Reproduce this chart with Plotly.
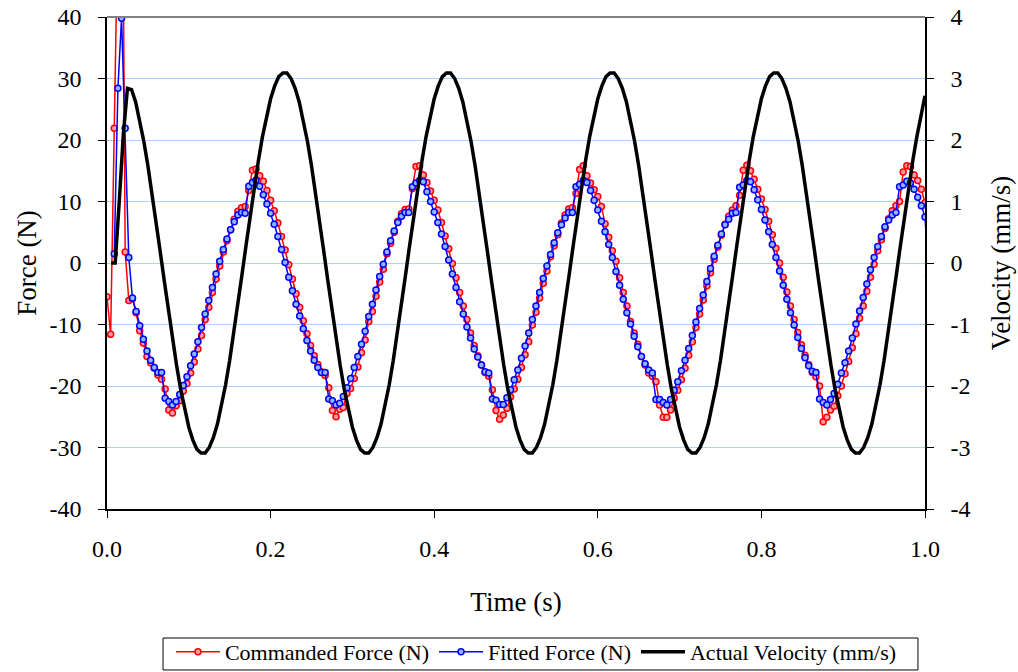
import plotly.graph_objects as go

# ---------------- data ----------------
SAMPLE_INTERVAL = 1.0 / 225.0   # force samples, ~0.00444 s apart

commanded_force = [
    -5.5, -11.6, 21.9, 50.0, 90.0, 1.8, -6.1, -5.8, -8.1, -11.0, -13.0, -15.2, -16.2, -17.1, -18.2, -18.9,
    -20.5, -23.9, -24.4, -23.2, -22.4, -20.8, -19.6, -17.9, -16.1, -14.0, -11.8, -9.2, -7.2, -4.8, -2.6, -0.5,
    1.8, 3.6, 5.4, 7.1, 8.4, 9.0, 9.2,
    11.8, 15.1, 15.3, 14.2, 13.3, 11.8, 10.2, 8.5, 6.5, 4.3, 2.1, -0.3, -2.6, -5.0, -7.2, -9.4, -11.5, -13.4,
    -15.1, -16.5, -17.7, -18.3,
    -20.3, -24.0, -25.0, -23.8, -23.5, -21.2, -20.4, -18.8, -16.9, -14.6, -12.5, -9.5, -7.9, -5.4, -3.1, -1.0,
    1.5, 3.2, 5.0, 6.8, 8.0, 8.7, 8.8,
    12.1, 15.7, 15.8, 14.3, 13.1, 11.7, 10.2, 8.6, 6.6, 4.4, 2.3, -0.1, -2.4, -4.8, -7.0, -9.2, -11.4, -13.4,
    -15.1, -16.6, -17.8, -18.4,
    -20.6, -24.0, -25.4, -24.7, -23.6, -21.8, -20.5, -18.9, -17.0, -14.9, -12.8, -10.1, -8.0, -5.7, -3.3, -1.3,
    1.0, 2.8, 4.6, 6.5, 7.8, 8.8, 9.0,
    11.3, 15.2, 15.8, 14.2, 13.0, 11.9, 10.8, 9.2, 6.4, 4.2, 2.0, 0.3, -2.4, -4.8, -7.0, -9.5, -11.4, -13.2,
    -15.2, -16.6, -17.9, -18.4,
    -19.3, -23.1, -25.1, -25.1, -23.9, -22.0, -20.7, -19.0, -17.1, -15.0, -12.8, -10.5, -8.3, -6.0, -3.7, -1.6,
    0.6, 2.6, 4.5, 6.3, 7.6, 8.6, 9.3,
    11.0, 15.1, 15.9, 15.0, 13.6, 12.0, 10.4, 8.7, 6.8, 4.6, 2.4, 0.0, -2.3, -4.7, -7.0, -9.2, -11.3, -13.3,
    -15.0, -16.5, -17.8, -18.5,
    -20.0, -25.8, -25.1, -23.9, -23.3, -21.6, -20.0, -18.0, -16.0, -13.8, -11.5, -9.0, -7.0, -4.6, -2.3, -0.2,
    2.0, 3.8, 5.6, 7.2, 8.5, 9.3,
    10.0, 14.8, 15.8, 15.7, 14.3, 13.4, 12.0, 9.8, 7.0,
]

fitted_force = [
    None, None, 1.5, 28.4, 39.8, 21.9, 0.9, -5.7, -7.9, -10.2, -12.4, -14.3, -15.8, -17.0, -17.8, -17.8,
    -22.0, -22.5, -23.1, -22.5, -21.4, -19.9, -18.5, -16.7, -14.8, -12.8, -10.5, -8.3, -6.1, -4.0, -1.8, 0.3,
    2.2, 3.9, 5.4, 6.7, 7.8, 8.2, 8.1,
    12.5, 13.1, 13.5, 12.5, 11.1, 9.6, 8.1, 6.3, 4.3, 2.2, 0.1, -2.3, -4.5, -6.7, -8.6, -10.7, -12.6, -14.3,
    -15.8, -17.0, -17.8, -17.8,
    -22.1, -22.4, -23.1, -22.8, -21.7, -20.3, -18.8, -17.0, -15.2, -13.2, -11.1, -8.7, -6.7, -4.4, -2.2, -0.2,
    1.8, 3.6, 5.2, 6.6, 7.6, 8.2, 8.2,
    12.4, 13.0, 13.4, 13.2, 11.6, 10.0, 8.3, 6.6, 4.7, 2.7, 0.5, -1.8, -4.0, -6.3, -8.3, -10.4, -12.2, -14.0,
    -15.3, -16.6, -17.7, -17.9,
    -22.1, -22.3, -23.0, -23.0, -21.9, -20.6, -19.0, -17.4, -15.5, -13.5, -11.4, -9.2, -7.0, -4.8, -2.5, -0.5,
    1.4, 3.3, 4.9, 6.2, 7.3, 8.2, 8.2,
    12.4, 12.8, 13.4, 13.1, 11.8, 10.2, 8.6, 6.8, 5.1, 3.0, 0.9, -1.4, -3.6, -5.9, -8.1, -9.9, -11.9, -13.6,
    -15.2, -16.4, -17.4, -17.9,
    -22.2, -22.2, -22.7, -23.1, -22.2, -20.7, -19.3, -17.5, -15.8, -13.9, -11.8, -9.6, -7.4, -5.2, -3.0, -0.9,
    1.1, 2.9, 4.7, 6.2, 7.1, 8.1, 8.2,
    12.3, 12.7, 13.4, 13.2, 11.9, 10.3, 8.7, 7.0, 5.1, 3.0, 0.9, -1.3, -3.6, -5.9, -8.1, -10.1, -12.1, -13.9,
    -15.4, -16.7, -17.6, -17.8,
    -22.1, -22.7, -23.1, -22.2, -21.2, -19.7, -17.9, -16.2, -14.3, -12.2, -9.9, -7.8, -5.6, -3.4, -1.1, 0.9,
    2.7, 4.3, 5.9, 7.0, 7.8, 8.2,
    12.4, 12.7, 13.3, 13.0, 12.0, 10.7, 9.3, 7.5, -2.2,
]

force_time = [i * SAMPLE_INTERVAL for i in range(len(commanded_force))]

VELOCITY_INTERVAL = 0.005   # velocity read every 5 ms, starting at t = 0.005 s
actual_velocity = [
    0.0, 0.0, 1.0, 2.1, 2.84, 2.82, 2.62, 2.33, 1.98, 1.58, 1.14, 0.68, 0.19, -0.29, -0.77, -1.23, -1.66,
    -2.05, -2.39, -2.67, -2.88, -3.03, -3.09, -3.09, -3.00, -2.84, -2.62, -2.33, -1.98, -1.58, -1.14, -0.68,
    -0.19, 0.29, 0.77, 1.23, 1.66, 2.05, 2.39,
    2.67, 2.88, 3.03, 3.09, 3.09, 3.00, 2.84, 2.62, 2.33, 1.98, 1.58, 1.14, 0.68, 0.19, -0.29, -0.77, -1.23,
    -1.66, -2.05, -2.39, -2.67, -2.88, -3.03, -3.09, -3.09, -3.00, -2.84, -2.62, -2.33, -1.98, -1.58, -1.14,
    -0.68, -0.19, 0.29, 0.77, 1.23, 1.66, 2.05, 2.39,
    2.67, 2.88, 3.03, 3.09, 3.09, 3.00, 2.84, 2.62, 2.33, 1.98, 1.58, 1.14, 0.68, 0.19, -0.29, -0.77, -1.23,
    -1.66, -2.05, -2.39, -2.67, -2.88, -3.03, -3.09, -3.09, -3.00, -2.84, -2.62, -2.33, -1.98, -1.58, -1.14,
    -0.68, -0.19, 0.29, 0.77, 1.23, 1.66, 2.05, 2.39,
    2.67, 2.88, 3.03, 3.09, 3.09, 3.00, 2.84, 2.62, 2.33, 1.98, 1.58, 1.14, 0.68, 0.19, -0.29, -0.77, -1.23,
    -1.66, -2.05, -2.39, -2.67, -2.88, -3.03, -3.09, -3.09, -3.00, -2.84, -2.62, -2.33, -1.98, -1.58, -1.14,
    -0.68, -0.19, 0.29, 0.77, 1.23, 1.66, 2.05, 2.39,
    2.67, 2.88, 3.03, 3.09, 3.09, 3.00, 2.84, 2.62, 2.33, 1.98, 1.58, 1.14, 0.68, 0.19, -0.29, -0.77, -1.23,
    -1.66, -2.05, -2.39, -2.67, -2.88, -3.03, -3.09, -3.09, -3.00, -2.84, -2.62, -2.33, -1.98, -1.58, -1.14,
    -0.68, -0.19, 0.29, 0.77, 1.23, 1.66, 2.05, 2.39, 2.72,
]
velocity_time = [(k + 1) * VELOCITY_INTERVAL for k in range(len(actual_velocity))]

x_ticks = [0.0, 0.2, 0.4, 0.6, 0.8, 1.0]
x_tick_labels = ["0.0", "0.2", "0.4", "0.6", "0.8", "1.0"]
force_ticks = [-40, -30, -20, -10, 0, 10, 20, 30, 40]
force_tick_labels = ["-40", "-30", "-20", "-10", "0", "10", "20", "30", "40"]
velocity_ticks = [-4, -3, -2, -1, 0, 1, 2, 3, 4]
velocity_tick_labels = ["-4", "-3", "-2", "-1", "0", "1", "2", "3", "4"]

# ---------------- figure ----------------
FONT = "Liberation Serif"

fig = go.Figure()
fig.add_trace(go.Scatter(
    x=force_time, y=commanded_force, name="Commanded Force (N)", mode="lines+markers",
    line=dict(color="#ff0000", width=1.5),
    marker=dict(symbol="circle", size=6, color="#ff9aae", line=dict(color="#ff0000", width=1.5)),
))
fig.add_trace(go.Scatter(
    x=force_time, y=fitted_force, name="Fitted Force (N)", mode="lines+markers",
    line=dict(color="#0000ff", width=1.5),
    marker=dict(symbol="circle", size=6, color="#8fb6ff", line=dict(color="#0000ff", width=1.5)),
))
fig.add_trace(go.Scatter(
    x=velocity_time, y=actual_velocity, name="Actual Velocity (mm/s)", mode="lines", yaxis="y2",
    line=dict(color="#000000", width=3.5),
))

fig.update_layout(
    width=1018, height=672,
    margin=dict(l=107, r=93, t=17, b=163, autoexpand=False),
    paper_bgcolor="white", plot_bgcolor="white",
    font=dict(family=FONT, color="black", size=22),
    showlegend=True,
    legend=dict(
        orientation="h", x=0.525, xanchor="center", y=-0.248, yanchor="top",
        borderwidth=0, bgcolor="rgba(0,0,0,0)",
        font=dict(family=FONT, size=22, color="black"),
        itemwidth=44, tracegroupgap=0,
    ),
    xaxis=dict(
        range=[0, 1.0], tickvals=x_ticks, ticktext=x_tick_labels, automargin=False,
        ticks="outside", ticklen=7, tickwidth=1, tickcolor="black",
        showline=True, linecolor="black", linewidth=1.5, showgrid=False, zeroline=False,
        tickfont=dict(family=FONT, size=24), ticklabelstandoff=10,
        title=dict(text="Time (s)", font=dict(family=FONT, size=27), standoff=32),
    ),
    yaxis=dict(
        range=[-40, 40], tickvals=force_ticks, ticktext=force_tick_labels, automargin=False,
        ticks="outside", ticklen=7, tickwidth=1, tickcolor="black",
        showline=True, linecolor="black", linewidth=1.5,
        showgrid=True, gridcolor="#a8d4ff", gridwidth=1, zeroline=False,
        tickfont=dict(family=FONT, size=24), ticklabelstandoff=12,
        title=dict(text="Force (N)", font=dict(family=FONT, size=27), standoff=5),
    ),
    yaxis2=dict(
        range=[-4, 4], tickvals=velocity_ticks, ticktext=velocity_tick_labels, automargin=False,
        overlaying="y", side="right",
        ticks="outside", ticklen=7, tickwidth=1, tickcolor="black",
        showline=True, linecolor="black", linewidth=1.5, showgrid=False, zeroline=False,
        tickfont=dict(family=FONT, size=24), ticklabelstandoff=12,
        title=dict(text="Velocity (mm/s)", font=dict(family=FONT, size=27), standoff=22),
    ),
    shapes=[
        dict(type="line", xref="paper", yref="paper", x0=0, x1=1, y0=1, y1=1,
             line=dict(color="#808080", width=2), layer="above"),
        # legend frame
        dict(type="rect", xref="paper", yref="paper", x0=0.0685, x1=0.9914, y0=-0.3272, y1=-0.2622,
             line=dict(color="black", width=1), fillcolor="white", layer="below"),
    ],
)

fig.write_html("out.html")
